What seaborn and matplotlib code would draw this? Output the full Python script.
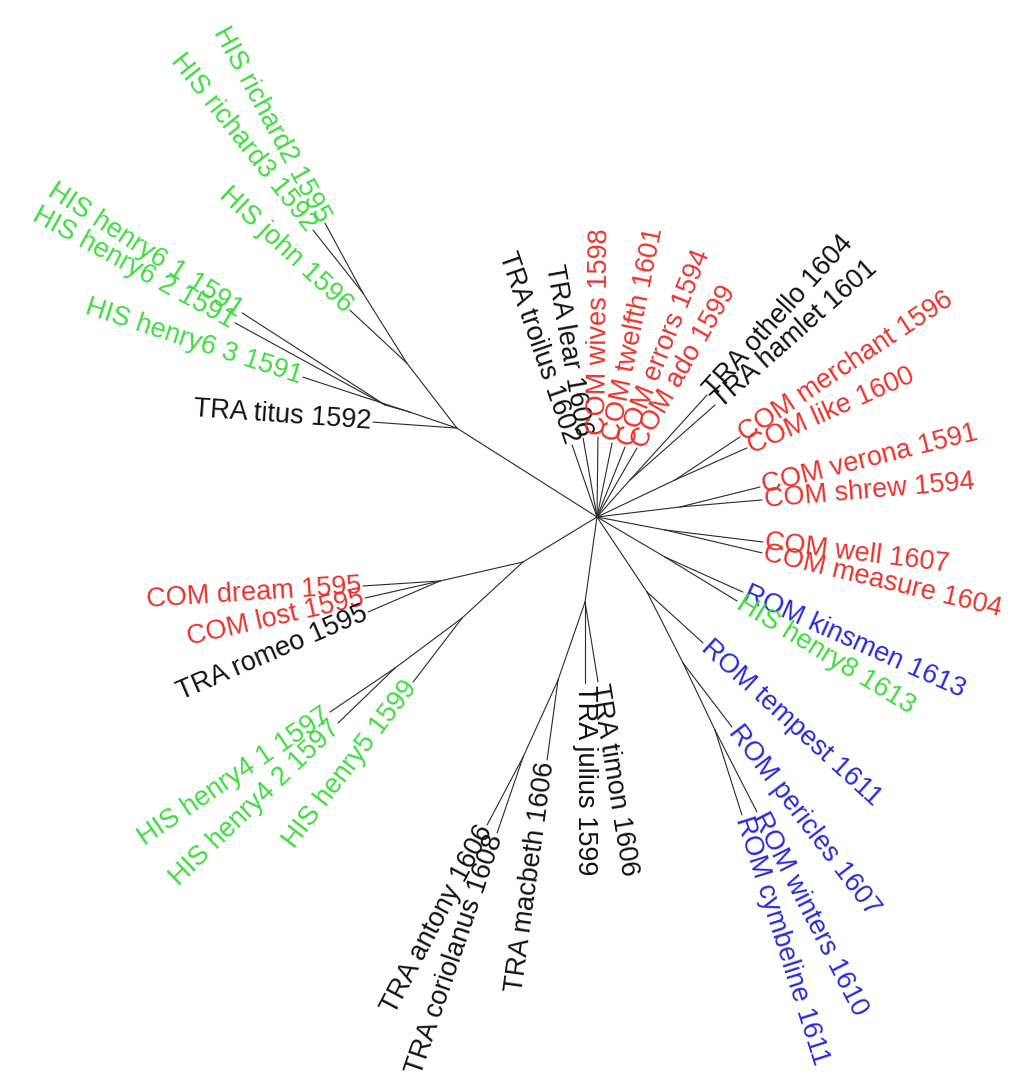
import numpy as np
import pandas as pd
import matplotlib
matplotlib.use("Agg")
import matplotlib.pyplot as plt
import seaborn as sns

# ---- tree data: internal nodes (id, parent, branch length, branch direction in degrees)
int_ids     = ["UL", "B", "A", "R", "R2", "OH", "ML", "VS", "WM", "KH",
               "RM1", "RM2", "RM3", "T1", "T2", "T3", "LB", "D1", "H1", "H2"]
int_parent  = ["hub", "UL", "B", "UL", "R", "hub", "hub", "hub", "hub", "hub",
               "hub", "RM1", "RM2", "hub", "T1", "T2", "hub", "LB", "LB", "H1"]
int_len     = [165.9, 49.6, 26.0, 82.0, 82.7, 49.6, 86.3, 83.6, 69.2, 78.9,
               90.1, 79.6, 74.2, 85.8, 82.5, 84.6, 86.6, 85.1, 82.8, 83.6]
int_angle   = [147.6, 161.2, 164.0, 127.6, 122.1, 48.3, 25.4, 6.9, -10.8, -30.5,
               -56.3, -63.1, -64.5, -98.0, -109.1, -114.4, -148.7, -167.1, -137.4, -143.3]

# ---- tips
tip_genre  = ["TRA", "HIS", "HIS", "HIS", "HIS", "HIS", "HIS",
              "TRA", "TRA", "COM", "COM", "COM", "COM", "TRA", "TRA",
              "COM", "COM", "COM", "COM", "COM", "COM", "ROM", "HIS",
              "ROM", "ROM", "ROM", "ROM", "TRA", "TRA", "TRA", "TRA", "TRA",
              "COM", "COM", "TRA", "HIS", "HIS", "HIS"]
tip_play   = ["titus", "henry6 3", "henry6 1", "henry6 2", "john", "richard2", "richard3",
              "troilus", "lear", "wives", "twelfth", "errors", "ado", "othello", "hamlet",
              "merchant", "like", "verona", "shrew", "well", "measure", "kinsmen", "henry8",
              "tempest", "pericles", "winters", "cymbeline", "julius", "timon", "macbeth",
              "antony", "coriolanus", "dream", "lost", "romeo", "henry5", "henry4 1", "henry4 2"]
tip_year   = [1592, 1591, 1591, 1591, 1596, 1595, 1592,
              1602, 1606, 1598, 1601, 1594, 1599, 1604, 1601,
              1596, 1600, 1591, 1594, 1607, 1604, 1613, 1613,
              1611, 1607, 1610, 1611, 1599, 1606, 1606,
              1606, 1608, 1595, 1595, 1595, 1599, 1597, 1597]
tip_parent = ["UL", "B", "A", "A", "R", "R2", "R2",
              "hub", "hub", "hub", "hub", "hub", "hub", "OH", "OH",
              "ML", "ML", "VS", "VS", "WM", "WM", "KH", "KH",
              "RM1", "RM2", "RM3", "RM3", "T1", "T1", "T2",
              "T3", "T3", "D1", "D1", "D1", "H1", "H2", "H2"]
tip_len    = [84.2, 112.6, 170.0, 171.0, 77.8, 79.6, 80.4,
              76.2, 80.2, 80.0, 75.5, 75.4, 79.8, 114.7, 113.4,
              77.9, 78.8, 82.5, 82.3, 98.7, 99.7, 85.5, 84.4,
              75.7, 80.6, 92.1, 89.2, 81.0, 81.0, 80.8,
              76.9, 80.3, 77.2, 76.9, 78.4, 80.6, 78.5, 79.2]
tip_angle  = [175.9, 161.9, 147.2, 151.3, 137.1, 118.5, 128.4,
              109.1, 100.0, 89.3, 78.5, 68.2, 59.9, 47.8, 41.4,
              33.5, 24.0, 14.0, 4.9, -7.0, -13.3, -24.2, -31.4,
              -42.3, -52.6, -62.9, -72.4, -90.0, -80.8, -97.8,
              -117.9, -108.9, -176.3, -167.2, -156.7, -127.4, -145.9, -136.0]

genre_colors = {"COM": "#e8342c", "HIS": "#3fdc3f", "ROM": "#2b2bd6", "TRA": "#111111"}

# ---- layout from branch lengths / directions
pos = {"hub": (0.0, 0.0)}
rows = []
eid = 0
def add_edge(node, parent, length, ang):
    global eid
    px, py = pos[parent]
    a = np.deg2rad(ang)
    cx, cy = px + length * np.cos(a), py + length * np.sin(a)
    pos[node] = (cx, cy)
    rows.append({"edge": eid, "x": px, "y": py, "o": 0})
    rows.append({"edge": eid, "x": cx, "y": cy, "o": 1})
    eid += 1

for n, p, l, a in zip(int_ids, int_parent, int_len, int_angle):
    add_edge(n, p, l, a)
tip_keys = []
for i, (p, l, a) in enumerate(zip(tip_parent, tip_len, tip_angle)):
    k = "tip%d" % i
    tip_keys.append(k)
    add_edge(k, p, l, a)

df = pd.DataFrame(rows)

sns.set_theme(style="white")
plt.rcParams["font.family"] = ["Liberation Sans", "DejaVu Sans"]

fig = plt.figure(figsize=(10.14, 10.85), dpi=100)
ax = fig.add_axes([0, 0, 1, 1])
sns.lineplot(data=df, x="x", y="y", units="edge", estimator=None, sort=False,
             color="#2a2a2a", linewidth=0.8, ax=ax, legend=False)

for k, g, pl, yr, a in zip(tip_keys, tip_genre, tip_play, tip_year, tip_angle):
    x, y = pos[k]
    r = np.deg2rad(a)
    off = 2.0
    tx, ty = x + off * np.cos(r), y + off * np.sin(r)
    if -90.0 <= a <= 90.0:
        rot, ha = a, "left"
    else:
        rot, ha = (a - 180.0) if a > 0 else (a + 180.0), "right"
    ax.text(tx, ty, f"{g} {pl} {yr}", rotation=rot, rotation_mode="anchor",
            ha=ha, va="center", fontsize=19.5, color=genre_colors[g])

ax.set_xlim(-597, 1014 - 597)
ax.set_ylim(517 - 1085, 517)
ax.set_axis_off()
fig.savefig("out.png", dpi=100, facecolor="white")
